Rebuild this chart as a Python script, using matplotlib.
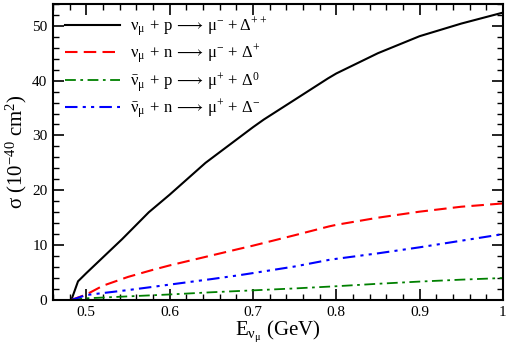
import numpy as np
import matplotlib
matplotlib.use("Agg")
import matplotlib.pyplot as plt
from matplotlib.ticker import MultipleLocator

plt.rcParams['font.family'] = 'serif'
plt.rcParams['font.serif'] = ['Liberation Serif', 'DejaVu Serif']
plt.rcParams['mathtext.fontset'] = 'custom'
plt.rcParams['mathtext.rm'] = 'Liberation Serif'
plt.rcParams['mathtext.it'] = 'Liberation Serif'
plt.rcParams['mathtext.default'] = 'regular'

# === DATA ===
e_nu = [0.482, 0.49, 0.50, 0.543, 0.575, 0.60, 0.643, 0.70, 0.713, 0.75,
        0.79, 0.80, 0.85, 0.90, 0.95, 1.00]
sig_p_pp = [0.0, 3.4, 4.9, 11.1, 16.0, 19.2, 25.0, 31.5, 32.9, 36.5,
            40.4, 41.3, 45.0, 48.1, 50.4, 52.4]

e_red = [0.482, 0.50, 0.52, 0.55, 0.58, 0.60, 0.683, 0.70, 0.75, 0.791,
         0.80, 0.85, 0.90, 0.95, 1.00]
sig_n_p = [0.0, 1.0, 2.6, 4.2, 5.5, 6.3, 9.3, 9.9, 11.8, 13.4,
           13.7, 15.0, 16.1, 17.0, 17.6]

e_bar = [0.482, 0.50, 0.55, 0.5755, 0.60, 0.65, 0.683, 0.70, 0.75, 0.791,
         0.80, 0.85, 0.90, 0.95, 1.00]
sig_bar_n = [0.0, 0.9, 1.8, 2.3, 2.8, 3.8, 4.5, 4.9, 6.1, 7.3,
             7.5, 8.5, 9.6, 10.8, 12.0]

e_green = [0.482, 0.50, 0.55, 0.60, 0.65, 0.70, 0.75, 0.80, 0.85, 0.90, 0.95, 1.00]
sig_bar_p = [0.0, 0.3, 0.65, 1.0, 1.4, 1.75, 2.1, 2.5, 2.95, 3.35, 3.7, 4.0]

labels = [
    r"$\nu_\mu\,+\,p\,\longrightarrow\,\mu^{-}\,+\Delta^{++}$",
    r"$\nu_\mu\,+\,n\,\longrightarrow\,\mu^{-}\,+\,\Delta^{+}$",
    r"$\bar{\nu}_\mu\,+\,p\,\longrightarrow\,\mu^{+}\,+\,\Delta^{0}$",
    r"$\bar{\nu}_\mu\,+\,n\,\longrightarrow\,\mu^{+}\,+\,\Delta^{-}$",
]

# === PLOT ===
fig = plt.figure(figsize=(5.1, 3.5), dpi=100)
ax = fig.add_axes([0.104, 0.143, 0.882, 0.846])

ax.plot(e_nu, sig_p_pp, color="black", lw=1.5, label=labels[0])
ax.plot(e_red, sig_n_p, color="red", lw=1.5, dashes=(6, 3), label=labels[1])
ax.plot(e_green, sig_bar_p, color="green", lw=1.3, dashes=(6, 2.5, 1.5, 2.5), label=labels[2])
ax.plot(e_bar, sig_bar_n, color="blue", lw=1.5, dashes=(6, 2.5, 1.5, 2.5, 1.5, 2.5), label=labels[3])

ax.set_xlim(0.46, 1.0)
ax.set_ylim(0, 54)
ax.xaxis.set_minor_locator(MultipleLocator(0.02))
ax.yaxis.set_major_locator(MultipleLocator(10))
ax.yaxis.set_minor_locator(MultipleLocator(2))
ax.set_xticks([0.5, 0.6, 0.7, 0.8, 0.9, 1.0])
ax.set_xticklabels(["0.5", "0.6", "0.7", "0.8", "0.9", "1"])

ax.tick_params(which="both", direction="in", top=True, right=True, labelsize=11)
ax.tick_params(which="major", length=8, width=1.2, pad=4)
ax.tick_params(which="minor", length=4, width=1.0)
for s in ax.spines.values():
    s.set_linewidth(1.5)

ax.set_xlabel(r"E$_{\nu_\mu}$ (GeV)", fontsize=15, labelpad=0)
ax.set_ylabel(r"σ (10$^{-40}$ cm$^2$)", fontsize=15, labelpad=2)

ax.legend(loc="upper left", frameon=False, fontsize=12, handlelength=3.3,
          labelspacing=0.22, borderaxespad=0.3, handletextpad=0.6)

fig.savefig("out.png", dpi=100)
